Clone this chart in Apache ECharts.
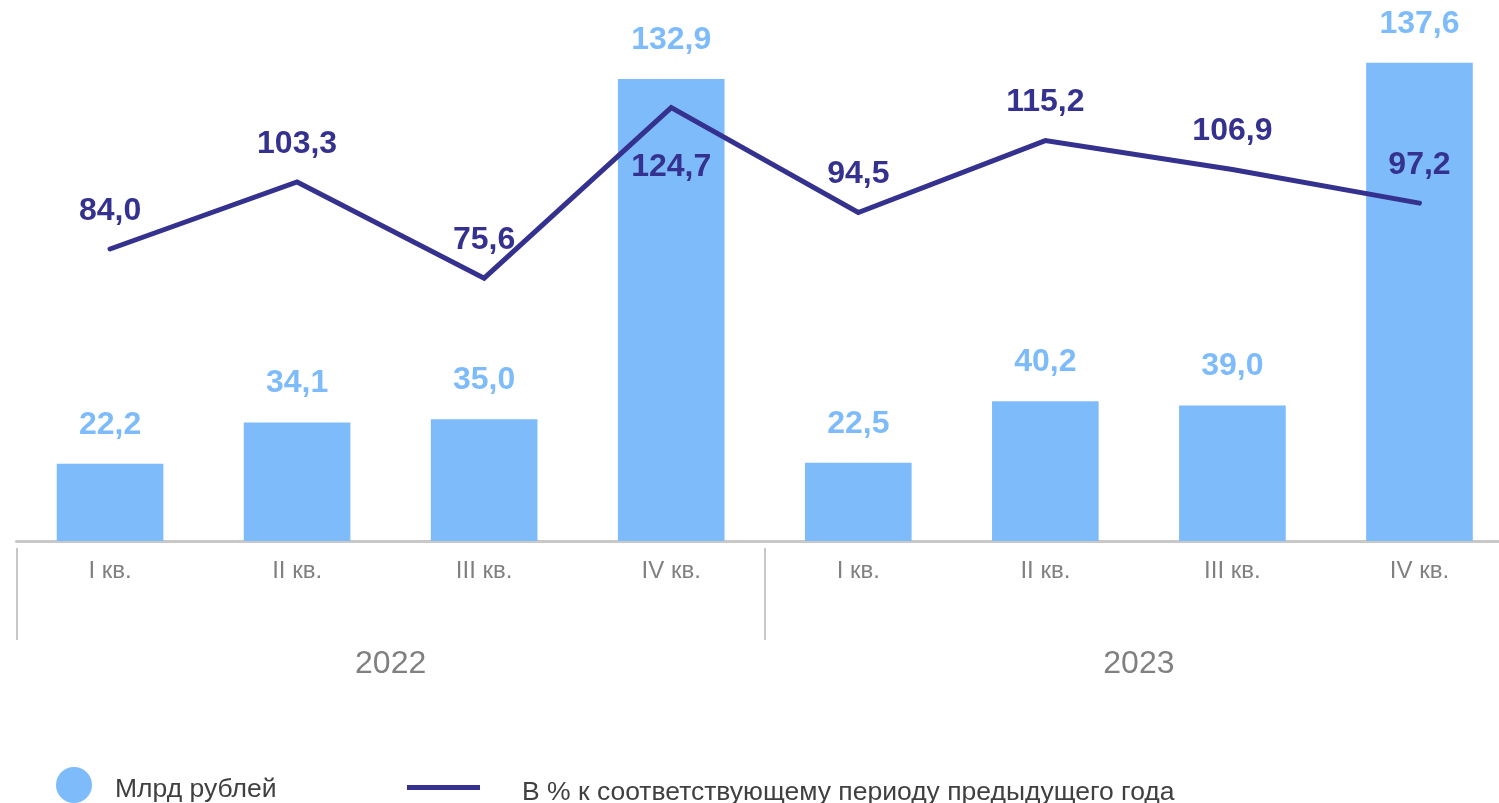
<!DOCTYPE html>
<html>
<head>
<meta charset="utf-8">
<script src="https://cdn.jsdelivr.net/npm/echarts@6/dist/echarts.min.js"></script>
<style>
  html, body { margin: 0; padding: 0; background: #fff; }
  #chart { width: 1499px; height: 803px; }
</style>
</head>
<body>
<div id="chart"></div>
<script>
// quarters and years
var quarters = ["I кв.", "II кв.", "III кв.", "IV кв.", "I кв.", "II кв.", "III кв.", "IV кв."];
var years = ["2022", "2023"];
// млрд рублей
var barValues = [22.2, 34.1, 35.0, 132.9, 22.5, 40.2, 39.0, 137.6];
// в % к соответствующему периоду предыдущего года
var lineValues = [84.0, 103.3, 75.6, 124.7, 94.5, 115.2, 106.9, 97.2];

var barName = "Млрд рублей";
var lineName = "В % к соответствующему периоду предыдущего года";

var barColor = "#7EBBFB";
var lineColor = "#35318F";
var fmt = function (p) { return p.value.toFixed(1).replace(".", ","); };

var chart = echarts.init(document.getElementById("chart"));

var lineData = lineValues.map(function (v, i) {
  if (i === 3) {
    // подпись под точкой, как на исходнике
    return { value: v, label: { position: "bottom", distance: 44 } };
  }
  return v;
});

// текст легенды чуть ниже значка
var legendText = function (gap) {
  return {
    formatter: "{t|{name}}",
    textStyle: {
      rich: { t: { fontSize: 26.5, color: "#404040", padding: [10, 0, 0, gap] } }
    }
  };
};

var option = {
  animation: false,
  textStyle: { fontFamily: "Liberation Sans, Arial, sans-serif" },
  grid: { left: 16.5, top: 19.6, width: 1496.5, bottom: 262, outerBoundsMode: "none" },
  legend: [
    Object.assign({
      data: [{ name: barName, icon: "circle" }],
      left: 51, top: 762,
      itemWidth: 36, itemHeight: 36
    }, legendText(18)),
    Object.assign({
      data: [{ name: lineName, icon: "rect", itemStyle: { color: lineColor, opacity: 1 } }],
      left: 402, top: 774,
      itemWidth: 73, itemHeight: 5
    }, legendText(37))
  ],
  xAxis: [
    {
      type: "category",
      data: quarters,
      axisLine: { lineStyle: { color: "#c8c8c8", width: 3 } },
      axisTick: { show: false },
      axisLabel: { color: "#808080", fontSize: 24, margin: 18 }
    },
    {
      type: "category",
      data: years,
      position: "bottom",
      offset: 7,
      axisLine: { show: false },
      axisTick: { show: true, length: 92, lineStyle: { color: "#c8c8c8", width: 2 } },
      axisLabel: { color: "#808080", fontSize: 32, margin: 100 }
    }
  ],
  yAxis: { type: "value", min: 0, max: 150, show: false, splitLine: { show: false } },
  series: [
    {
      name: barName,
      type: "bar",
      data: barValues,
      barCategoryGap: "43%",
      itemStyle: { color: barColor },
      label: {
        show: true, position: "top", distance: 23,
        color: barColor, fontSize: 32, fontWeight: "bold", formatter: fmt
      }
    },
    {
      name: lineName,
      type: "line",
      data: lineData,
      symbol: "circle",
      symbolSize: 0.1,
      showSymbol: true,
      lineStyle: { color: lineColor, width: 5, cap: "round", join: "miter" },
      itemStyle: { color: lineColor },
      label: {
        show: true, position: "top", distance: 22,
        color: lineColor, fontSize: 32, fontWeight: "bold", formatter: fmt
      },
      z: 3
    }
  ]
};

chart.setOption(option);
</script>
</body>
</html>
